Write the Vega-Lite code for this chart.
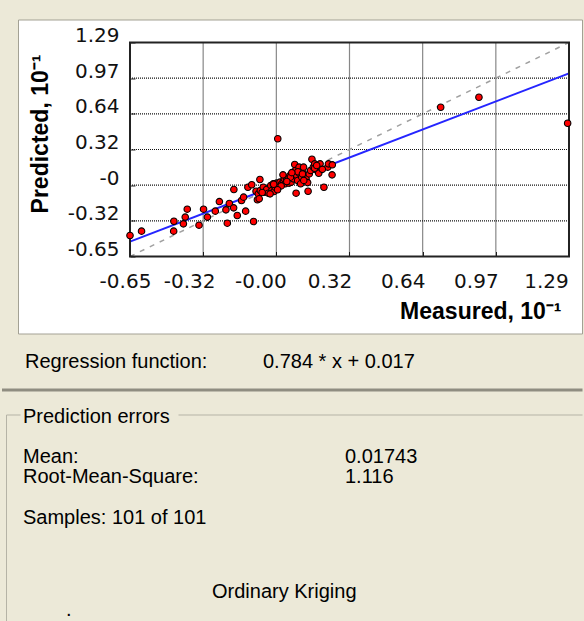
{
  "$schema": "https://vega.github.io/schema/vega-lite/v6.json",
  "background": "#ECE9D8",
  "padding": {"left": 6, "top": 18.5, "right": 0, "bottom": 0},
  "spacing": 0,
  "bounds": "flush",
  "config": {
    "view": {"stroke": null},
    "axis": {"grid": false},
    "text": {"font": "Liberation Sans", "fontSize": 20, "color": "#000000"}
  },
  "datasets": {
    "points": [
      {"measured": -0.65, "predicted": -0.46}, {"measured": -0.599, "predicted": -0.42}, {"measured": -0.456, "predicted": -0.33},
      {"measured": -0.457, "predicted": -0.42}, {"measured": -0.406, "predicted": -0.293}, {"measured": -0.397, "predicted": -0.221},
      {"measured": -0.414, "predicted": -0.354}, {"measured": -0.345, "predicted": -0.366}, {"measured": -0.325, "predicted": -0.221},
      {"measured": -0.308, "predicted": -0.293}, {"measured": -0.273, "predicted": -0.239}, {"measured": -0.255, "predicted": -0.152},
      {"measured": -0.226, "predicted": -0.227}, {"measured": -0.22, "predicted": -0.348}, {"measured": -0.211, "predicted": -0.17},
      {"measured": -0.192, "predicted": -0.209}, {"measured": -0.191, "predicted": -0.043}, {"measured": -0.176, "predicted": -0.278},
      {"measured": -0.157, "predicted": -0.142}, {"measured": -0.148, "predicted": -0.112}, {"measured": -0.139, "predicted": -0.239},
      {"measured": -0.104, "predicted": -0.333}, {"measured": -0.087, "predicted": -0.136}, {"measured": -0.129, "predicted": -0.022},
      {"measured": -0.112, "predicted": 0.0}, {"measured": -0.093, "predicted": -0.058}, {"measured": -0.083, "predicted": -0.082},
      {"measured": -0.076, "predicted": 0.048}, {"measured": -0.074, "predicted": -0.052}, {"measured": -0.079, "predicted": -0.127},
      {"measured": -0.061, "predicted": -0.022}, {"measured": -0.054, "predicted": -0.067}, {"measured": -0.046, "predicted": -0.043},
      {"measured": -0.039, "predicted": -0.076}, {"measured": -0.028, "predicted": -0.006}, {"measured": -0.023, "predicted": -0.052},
      {"measured": -0.017, "predicted": 0.009}, {"measured": -0.014, "predicted": -0.061}, {"measured": -0.008, "predicted": -0.022},
      {"measured": -0.002, "predicted": 0.015}, {"measured": 0.003, "predicted": 0.417}, {"measured": 0.008, "predicted": -0.006},
      {"measured": 0.013, "predicted": 0.024}, {"measured": 0.02, "predicted": 0.009}, {"measured": 0.028, "predicted": 0.033},
      {"measured": 0.032, "predicted": 0.054}, {"measured": 0.036, "predicted": 0.009}, {"measured": 0.042, "predicted": 0.045},
      {"measured": 0.05, "predicted": 0.063}, {"measured": 0.053, "predicted": 0.015}, {"measured": 0.057, "predicted": 0.084},
      {"measured": 0.062, "predicted": 0.024}, {"measured": 0.069, "predicted": 0.099}, {"measured": 0.072, "predicted": 0.054},
      {"measured": 0.078, "predicted": 0.184}, {"measured": 0.081, "predicted": 0.13}, {"measured": 0.084, "predicted": -0.076},
      {"measured": 0.087, "predicted": 0.084}, {"measured": 0.091, "predicted": 0.039}, {"measured": 0.097, "predicted": 0.16},
      {"measured": 0.101, "predicted": 0.099}, {"measured": 0.104, "predicted": 0.009}, {"measured": 0.109, "predicted": 0.069},
      {"measured": 0.113, "predicted": 0.13}, {"measured": 0.117, "predicted": 0.16}, {"measured": 0.122, "predicted": 0.084},
      {"measured": 0.128, "predicted": 0.054}, {"measured": 0.137, "predicted": -0.058}, {"measured": 0.142, "predicted": 0.099},
      {"measured": 0.148, "predicted": 0.13}, {"measured": 0.154, "predicted": 0.232}, {"measured": 0.16, "predicted": 0.16},
      {"measured": 0.166, "predicted": 0.19}, {"measured": 0.172, "predicted": 0.136}, {"measured": 0.178, "predicted": 0.166},
      {"measured": 0.184, "predicted": 0.105}, {"measured": 0.19, "predicted": 0.19}, {"measured": 0.207, "predicted": -0.022},
      {"measured": 0.224, "predicted": 0.16}, {"measured": 0.227, "predicted": 0.19}, {"measured": 0.243, "predicted": 0.09},
      {"measured": 0.244, "predicted": 0.181}, {"measured": 0.723, "predicted": 0.703}, {"measured": 0.892, "predicted": 0.794},
      {"measured": 1.284, "predicted": 0.558}, {"measured": 0.092, "predicted": 0.118}, {"measured": 0.112, "predicted": 0.099},
      {"measured": 0.166, "predicted": 0.15}, {"measured": 0.175, "predicted": 0.175}, {"measured": 0.059, "predicted": 0.069},
      {"measured": 0.043, "predicted": 0.03}, {"measured": 0.026, "predicted": 0.09}, {"measured": 0.018, "predicted": -0.01},
      {"measured": 0.002, "predicted": -0.045}, {"measured": -0.015, "predicted": 0.005}, {"measured": -0.031, "predicted": -0.082},
      {"measured": -0.066, "predicted": -0.07}, {"measured": 0.135, "predicted": 0.02}, {"measured": 0.2, "predicted": 0.14},
      {"measured": 0.065, "predicted": 0.11}, {"measured": 0.118, "predicted": 0.04}
    ],
    "ticks": [{"v": -0.3267}, {"v": -0.0033}, {"v": 0.32}, {"v": 0.6433}, {"v": 0.9667}],
    "fit": [{"measured": -0.65, "predicted": -0.515}, {"measured": 1.29, "predicted": 1.01}],
    "regression": [
      {"part": "label", "text": "Regression function:"},
      {"part": "value", "text": "0.784 * x + 0.017"}
    ],
    "errors": [
      {"line": "header", "col": "label", "text": "Prediction errors"},
      {"line": "mean", "col": "label", "text": "Mean:"},
      {"line": "mean", "col": "value", "text": "0.01743"},
      {"line": "rms", "col": "label", "text": "Root-Mean-Square:"},
      {"line": "rms", "col": "value", "text": "1.116"},
      {"line": "samples", "col": "label", "text": "Samples: 101 of 101"}
    ],
    "method": [
      {"line": "method", "col": "method", "text": "Ordinary Kriging"},
      {"line": "dot", "col": "dot", "text": "."}
    ]
  },
  "vconcat": [
    {
      "width": 564,
      "height": 314,
      "view": {"fill": "#FFFFFF", "stroke": "#A3A194", "strokeWidth": 1},
      "layer": [
        {
          "data": {"name": "ticks"},
          "mark": {"type": "rule", "color": "#111111", "strokeWidth": 1.2, "strokeDash": [1, 1]},
          "encoding": {
            "x": {"field": "v", "type": "quantitative"},
            "y": {"datum": -0.65},
            "y2": {"datum": 1.29}
          }
        },
        {
          "data": {"name": "ticks"},
          "mark": {"type": "rule", "color": "#111111", "strokeWidth": 1.2, "strokeDash": [1, 1]},
          "encoding": {
            "y": {"field": "v", "type": "quantitative"},
            "x": {"datum": -0.65},
            "x2": {"datum": 1.29}
          }
        },
        {
          "data": {"values": [{}]},
          "mark": {"type": "rule", "color": "#A0A0A0", "strokeWidth": 1.5, "strokeDash": [5, 6]},
          "encoding": {
            "x": {"datum": -0.65},
            "y": {"datum": -0.65},
            "x2": {"datum": 1.29},
            "y2": {"datum": 1.29}
          }
        },
        {
          "data": {"name": "fit"},
          "mark": {"type": "line", "color": "#2525FF", "strokeWidth": 2},
          "encoding": {
            "x": {"field": "measured", "type": "quantitative"},
            "y": {"field": "predicted", "type": "quantitative"}
          }
        },
        {
          "data": {"values": [{}]},
          "mark": {"type": "rect", "fill": "transparent", "stroke": "#222222", "strokeWidth": 2},
          "encoding": {
            "x": {"datum": -0.65},
            "x2": {"datum": 1.29},
            "y": {"datum": -0.65},
            "y2": {"datum": 1.29}
          }
        },
        {
          "data": {"name": "points"},
          "mark": {"type": "circle", "size": 42, "fill": "#FF0000", "stroke": "#000000", "strokeWidth": 1.1, "opacity": 1},
          "encoding": {
            "x": {
              "field": "measured",
              "type": "quantitative",
              "scale": {"domain": [-1.14494, 1.34745], "nice": false, "zero": false},
              "axis": {
                "orient": "bottom",
                "offset": -77,
                "values": [-0.65, -0.3267, -0.0033, 0.32, 0.6433, 0.9667, 1.29],
                "labelExpr": "datum.value < -0.5 ? '-0.65' : datum.value < -0.2 ? '-0.32' : datum.value < 0.1 ? '-0.00' : datum.value < 0.5 ? '0.32' : datum.value < 0.8 ? '0.64' : datum.value < 1.1 ? '0.97' : '1.29'",
                "domain": false,
                "grid": false,
                "ticks": true,
                "tickSize": -5,
                "tickColor": "#222222",
                "tickWidth": 1,
                "labelFont": "DejaVu Sans",
                "labelFontSize": 20,
                "labelColor": "#111111",
                "labelPadding": 20,
                "labelAlign": "center",
                "labelBaseline": "top",
                "labelOffset": {
                  "condition": [
                    {"test": "datum.value < -0.5", "value": -5},
                    {"test": "datum.value < -0.2", "value": -14},
                    {"test": "datum.value < 0.1", "value": -16},
                    {"test": "datum.value > 1.1", "value": -23}
                  ],
                  "value": -20
                },
                "labelFlush": false,
                "labelOverlap": false,
                "labelBound": false,
                "title": "Measured, 10⁻¹",
                "titleFont": "Liberation Sans",
                "titleFontSize": 23,
                "titleFontWeight": "bold",
                "titleColor": "#000000",
                "titleX": 543,
                "titleY": 62,
                "titleAlign": "right",
                "titleBaseline": "alphabetic",
                "titleAngle": 0
              }
            },
            "y": {
              "field": "predicted",
              "type": "quantitative",
              "scale": {"domain": [-1.34804, 1.4985], "nice": false, "zero": false},
              "axis": {
                "orient": "left",
                "offset": -112,
                "values": [-0.65, -0.3267, -0.0033, 0.32, 0.6433, 0.9667, 1.29],
                "labelExpr": "datum.value < -0.5 ? '-0.65' : datum.value < -0.2 ? '-0.32' : datum.value < 0.1 ? '-0' : datum.value < 0.5 ? '0.32' : datum.value < 0.8 ? '0.64' : datum.value < 1.1 ? '0.97' : '1.29'",
                "domain": false,
                "grid": false,
                "ticks": true,
                "tickSize": -5,
                "tickColor": "#222222",
                "tickWidth": 1,
                "labelFont": "DejaVu Sans",
                "labelFontSize": 20,
                "labelColor": "#111111",
                "labelPadding": 16,
                "labelAlign": "right",
                "labelBaseline": "middle",
                "labelOffset": -7,
                "labelFlush": false,
                "labelOverlap": false,
                "labelBound": false,
                "title": "Predicted, 10⁻¹",
                "titleFont": "Liberation Sans",
                "titleFontSize": 23,
                "titleFontWeight": "bold",
                "titleColor": "#000000",
                "titleX": -83,
                "titleY": 114,
                "titleAlign": "center",
                "titleBaseline": "alphabetic",
                "titleAngle": -90
              }
            }
          }
        }
      ]
    },
    {
      "width": 564,
      "height": 56,
      "resolve": {"scale": {"x": "independent"}, "axis": {"x": "independent"}},
      "layer": [
        {
          "data": {"values": [{"v": 0.5}]},
          "mark": {"type": "point", "opacity": 0, "size": 0},
          "encoding": {
            "x": {
              "field": "v",
              "type": "quantitative",
              "scale": {"domain": [0, 1], "range": [-16.5, 564], "nice": false, "zero": false},
              "axis": {"orient": "bottom", "domain": true, "domainColor": "#8F8D81", "domainWidth": 3, "labels": false, "ticks": false, "grid": false, "title": null}
            }
          }
        },
        {
          "data": {"name": "regression"},
          "mark": {"type": "text", "align": "left", "baseline": "middle", "font": "Liberation Sans", "fontSize": 20, "color": "#000000"},
          "encoding": {
            "x": {"field": "part", "type": "nominal", "scale": {"type": "point", "domain": ["label", "value"], "range": [7, 245], "padding": 0}, "axis": null},
            "text": {"field": "text"}
          }
        }
      ]
    },
    {
      "width": 564,
      "height": 231,
      "resolve": {"scale": {"x": "independent", "y": "independent"}, "axis": {"x": "independent", "y": "independent"}},
      "layer": [
        {
          "data": {"values": [{"v": 0.5}]},
          "mark": {"type": "point", "opacity": 0, "size": 0},
          "encoding": {
            "x": {
              "field": "v",
              "type": "quantitative",
              "scale": {"domain": [0, 1], "range": [-12, 564], "nice": false, "zero": false},
              "axis": {"orient": "top", "offset": -25, "domain": true, "domainColor": "#B5B3A6", "domainWidth": 1, "domainDash": [14, 158, 600], "labels": false, "ticks": false, "grid": false, "title": null}
            },
            "y": {
              "field": "v",
              "type": "quantitative",
              "scale": {"domain": [0, 1], "nice": false, "zero": false},
              "axis": {"orient": "left", "offset": 12, "domain": true, "domainColor": "#B5B3A6", "domainWidth": 1, "domainDash": [206, 40], "labels": false, "ticks": false, "grid": false, "title": null}
            }
          }
        },
        {
          "data": {"name": "errors"},
          "mark": {"type": "text", "align": "left", "baseline": "alphabetic", "font": "Liberation Sans", "fontSize": 20, "color": "#000000"},
          "encoding": {
            "x": {"field": "col", "type": "nominal", "scale": {"type": "point", "domain": ["label", "value"], "range": [5, 327], "padding": 0}, "axis": null},
            "y": {"field": "line", "type": "nominal", "scale": {"type": "point", "domain": ["header", "gap1", "mean", "rms", "gap2", "samples"], "range": [33, 134], "padding": 0}, "axis": null},
            "text": {"field": "text"}
          }
        },
        {
          "data": {"name": "method"},
          "mark": {"type": "text", "align": "left", "baseline": "alphabetic", "font": "Liberation Sans", "fontSize": 20, "color": "#000000"},
          "encoding": {
            "x": {"field": "col", "type": "nominal", "scale": {"type": "point", "domain": ["dot", "method"], "range": [48, 194], "padding": 0}, "axis": null},
            "y": {"field": "line", "type": "nominal", "scale": {"type": "point", "domain": ["method", "dot"], "range": [208, 226], "padding": 0}, "axis": null},
            "text": {"field": "text"}
          }
        }
      ]
    }
  ]
}
